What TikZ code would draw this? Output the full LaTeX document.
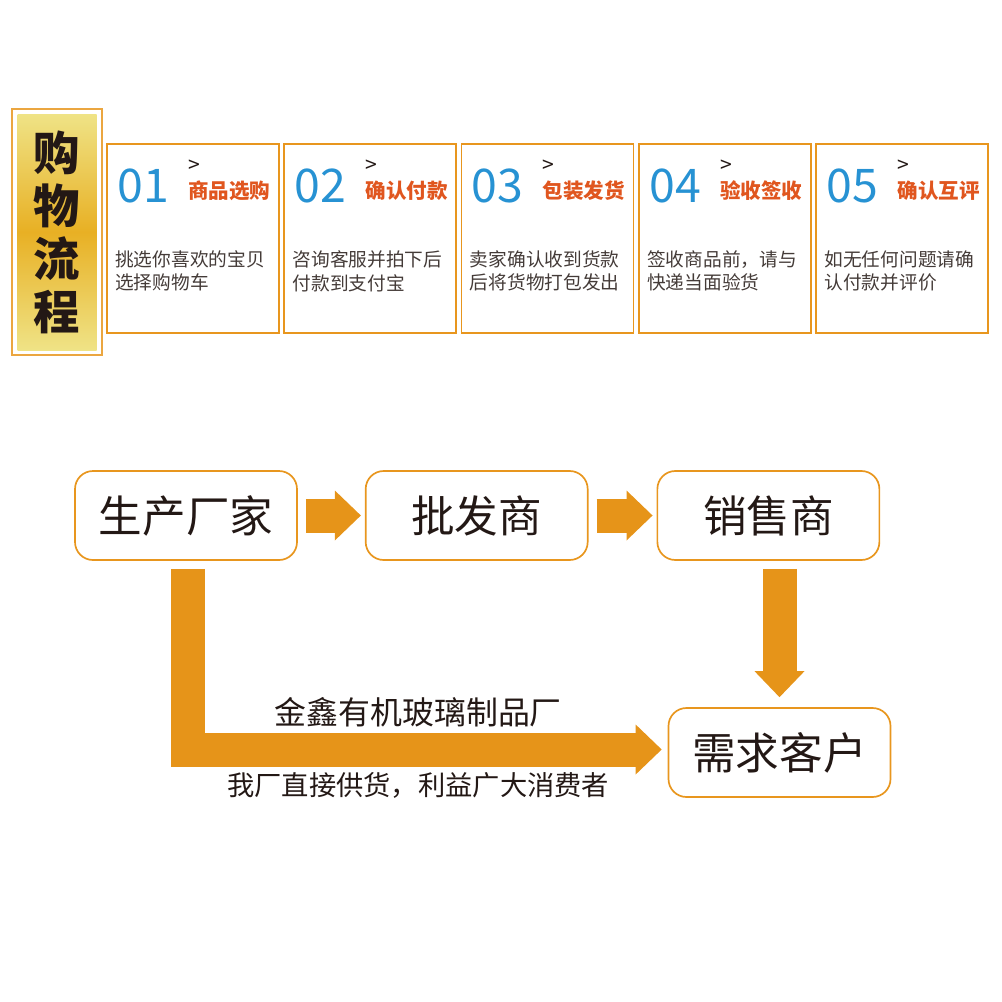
\documentclass[tikz,border=0pt]{standalone}
\usepackage{fontspec}
\setmainfont{Noto Sans CJK SC}
\usepackage{tikz}
\usetikzlibrary{
  arrows.meta,
  positioning,
}

\definecolor{lineorange}{HTML}{E8961E}
\definecolor{arroworange}{HTML}{E69419}
\definecolor{numblue}{HTML}{2792D3}
\definecolor{tagred}{HTML}{E0561F}
\definecolor{inkdark}{HTML}{231815}
\definecolor{titlegold}{HTML}{E8B024}
\definecolor{titlepale}{HTML}{EFE386}

\begin{document}
\begin{tikzpicture}[
  >=Stealth,
  titleframe/.style={
    draw=lineorange!85, line width=0.8pt, inner sep=0pt,
    minimum width=2.25cm, minimum height=6.15cm,
  },
  titlefill/.style={
    inner sep=0pt, minimum width=1.975cm, minimum height=5.9cm,
    top color=titlepale, bottom color=titlepale, middle color=titlegold,
    align=center, text=inkdark, font=\fontsize{33}{37.7}\selectfont\bfseries,
  },
  stepbox/.style={
    draw=lineorange, line width=1.3pt, inner sep=0pt,
    minimum width=4.3cm, minimum height=4.725cm,
  },
  numtext/.style={anchor=west, inner sep=0pt, text=numblue, font=\fontsize{33}{33}\selectfont},
  gttext/.style={anchor=west, inner sep=0pt, text=inkdark, font=\fontsize{15}{15}\selectfont},
  tagtext/.style={anchor=west, inner sep=0pt, text=tagred, font=\fontsize{14.6}{14.6}\selectfont\bfseries},
  desctext/.style={
    anchor=north west, inner sep=0pt, align=left,
    text=inkdark!85, font=\fontsize{13.3}{16.4}\selectfont,
  },
  bigbox/.style={
    draw=lineorange, line width=1.2pt, rounded corners=0.45cm, inner sep=0pt,
    minimum width=5.55cm, minimum height=2.225cm,
    text=inkdark, font=\fontsize{31}{31}\selectfont,
  },
  flow/.style={
    draw=arroworange, line width=0.85cm,
    -{Triangle[length=0.65cm, width=1.25cm, line width=0pt]},
  },
  caption/.style={text=inkdark, inner sep=0pt},
]

\useasboundingbox (0,0) rectangle (25.05,-25.05);

% ── Title column ────────────────────────────────────────────────────
\node[titleframe] (frame) at (1.425,-5.8) {};
\node[titlefill] (title) at (frame.center) {购\\物\\流\\程};

% ── Step boxes ──────────────────────────────────────────────────────
\node[stepbox, anchor=north west] (step1) at (2.65,-3.575) {};
\node[stepbox, right=0.0875cm of step1] (step2) {};
\node[stepbox, right=0.0875cm of step2] (step3) {};
\node[stepbox, right=0.0875cm of step3] (step4) {};
\node[stepbox, right=0.0875cm of step4] (step5) {};

\node[numtext] (num1) at ([shift={(0.275,-1.075)}]step1.north west) {01};
\node[gttext] (gt1) at ([shift={(2.05,-0.575)}]step1.north west) {>};
\node[tagtext] (tag1) at ([shift={(2.05,-1.2)}]step1.north west) {商品选购};
\node[desctext] (desc1) at ([shift={(0.225,-2.695)}]step1.north west)
  {挑选你喜欢的宝贝\\选择购物车};

\node[numtext] (num2) at ([shift={(0.275,-1.075)}]step2.north west) {02};
\node[gttext] (gt2) at ([shift={(2.05,-0.575)}]step2.north west) {>};
\node[tagtext] (tag2) at ([shift={(2.05,-1.2)}]step2.north west) {确认付款};
\node[desctext] (desc2) at ([shift={(0.225,-2.695)}]step2.north west)
  {咨询客服并拍下后\\付款到支付宝};

\node[numtext] (num3) at ([shift={(0.275,-1.075)}]step3.north west) {03};
\node[gttext] (gt3) at ([shift={(2.05,-0.575)}]step3.north west) {>};
\node[tagtext] (tag3) at ([shift={(2.05,-1.2)}]step3.north west) {包装发货};
\node[desctext] (desc3) at ([shift={(0.225,-2.695)}]step3.north west)
  {卖家确认收到货款\\后将货物打包发出};

\node[numtext] (num4) at ([shift={(0.275,-1.075)}]step4.north west) {04};
\node[gttext] (gt4) at ([shift={(2.05,-0.575)}]step4.north west) {>};
\node[tagtext] (tag4) at ([shift={(2.05,-1.2)}]step4.north west) {验收签收};
\node[desctext] (desc4) at ([shift={(0.225,-2.695)}]step4.north west)
  {签收商品前，请与\\快递当面验货};

\node[numtext] (num5) at ([shift={(0.275,-1.075)}]step5.north west) {05};
\node[gttext] (gt5) at ([shift={(2.05,-0.575)}]step5.north west) {>};
\node[tagtext] (tag5) at ([shift={(2.05,-1.2)}]step5.north west) {确认互评};
\node[desctext] (desc5) at ([shift={(0.225,-2.695)}]step5.north west)
  {如无任何问题请确\\认付款并评价};

% ── Supply chain ────────────────────────────────────────────────────
\node[bigbox] (maker) at (4.65,-12.8875) {生产厂家};
\node[bigbox, right=1.675cm of maker] (wholesale) {批发商};
\node[bigbox, right=1.7cm of wholesale] (retail) {销售商};
\node[bigbox] (client) at (19.4875,-18.8125) {需求客户};

\draw[flow, shorten <=0.2cm, shorten >=0.1cm] (maker) -- (wholesale);
\draw[flow, shorten <=0.2cm, shorten >=0.1cm] (wholesale) -- (retail);
\draw[flow, shorten <=0.2cm, shorten >=0.25cm] (client.north |- retail.south) -- (client.north);
\draw[flow, shorten <=0.2cm, shorten >=0.15cm]
  ([xshift=0.05cm]maker.south) |- ([yshift=0.075cm]client.west)
  node[pos=0.74, yshift=0.94cm, caption, font=\fontsize{22.7}{22.7}\selectfont] (brand)
    {金鑫有机玻璃制品厂}
  node[pos=0.74, yshift=-0.91cm, caption, font=\fontsize{19.4}{19.4}\selectfont] (slogan)
    {我厂直接供货，利益广大消费者};

\end{tikzpicture}
\end{document}
